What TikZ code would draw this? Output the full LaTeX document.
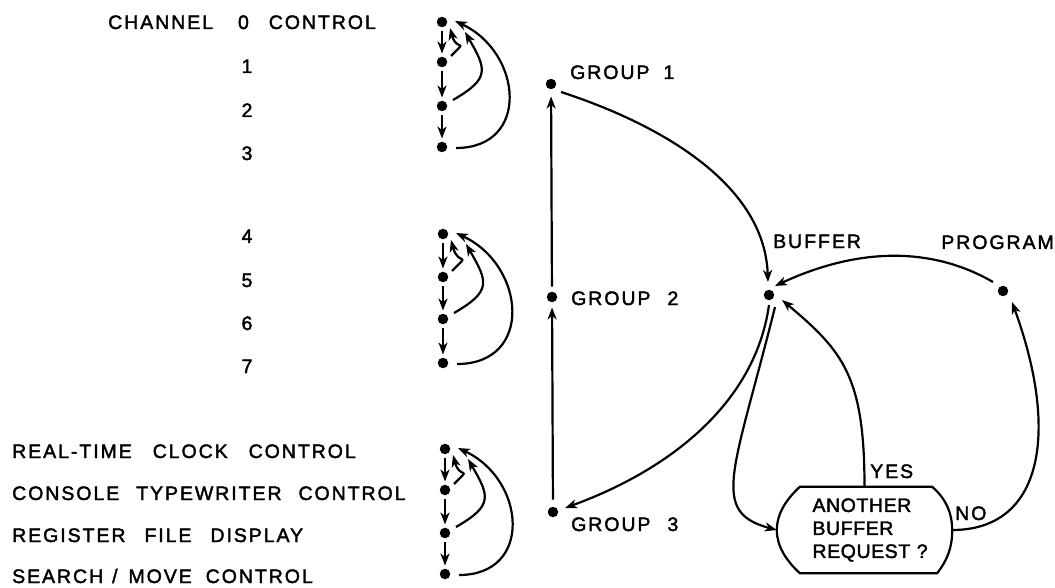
\documentclass[tikz,border=0pt]{standalone}
\usepackage{fontspec}
\setmainfont{Liberation Sans}
\newfontfamily\lettering{Liberation Sans}[LetterSpace=10,WordSpace=2.3,FakeBold=2]
\newfontfamily\boxlettering{Liberation Sans}[LetterSpace=3,WordSpace=1.5,FakeBold=2]
\usetikzlibrary{arrows.meta}

\begin{document}
\begin{tikzpicture}[x=1pt,y=1pt,
  dot/.style={circle,fill=black,inner sep=0pt,minimum size=10.5pt},
  flow/.style={-{Stealth[length=12pt,width=9pt,inset=3.5pt]},line width=2.2pt},
  lbl/.style={inner sep=0pt,font=\lettering\fontsize{19.5}{23}\selectfont},
  boxtext/.style={inner sep=0pt,font=\boxlettering\fontsize{19.5}{23}\selectfont,align=left}]
\useasboundingbox (0,0) rectangle (1055,-588);

% ---- channel labels ----
\node[lbl,anchor=base west] (hdr) at (108,-29) {CHANNEL\hspace{8pt} 0\hspace{3pt} CONTROL};
\foreach \n/\y in {1/73,2/117,3/160,4/243,5/287,6/330,7/373}
  \node[lbl,anchor=base] (ch\n) at (247,-\y) {\n};
\node[lbl,anchor=base west] (rtc) at (12,-458) {REAL-TIME\hspace{4pt} CLOCK\hspace{4pt} CONTROL};
\node[lbl,anchor=base west] (ctw) at (12,-500) {CONSOLE TYPEWRITER CONTROL};
\node[lbl,anchor=base west] (rfd) at (12,-542) {REGISTER\hspace{2pt} FILE\hspace{2pt} DISPLAY};
\node[lbl,anchor=base west] (smc) at (12,-583) {SEARCH\hspace{-8pt} / \hspace{-6pt}MOVE\hspace{-3pt} CONTROL};

% ---- priority chains, four channels per group ----
\foreach \p/\x/\ya/\yb/\yc/\yd in {a/442/22/62/106/147, b/443/234/277/319/363, c/445/449/490/533/574} {
  \node[dot] (\p0) at (\x,-\ya) {};
  \node[dot] (\p1) at (\x,-\yb) {};
  \node[dot] (\p2) at (\x,-\yc) {};
  \node[dot] (\p3) at (\x,-\yd) {};
  \draw[flow,shorten <=4pt,shorten >=3pt] (\p0) -- (\p1);
  \draw[flow,shorten <=4pt,shorten >=3pt] (\p1) -- (\p2);
  \draw[flow,shorten <=4pt,shorten >=3pt] (\p2) -- (\p3);
  \draw[flow] ([shift={(9,6)}]\p1.center) to[out=45,in=-75,looseness=2.3] ([shift={(8,-6)}]\p0.center);
  \draw[flow] ([shift={(11,6)}]\p2.center) to[out=30,in=-60,looseness=1.6] ([shift={(23,-10)}]\p0.center);
  \draw[flow] ([shift={(14,-1)}]\p3.center) to[out=0,in=-25,looseness=1.5] ([shift={(13,1)}]\p0.center);
}

% ---- groups ----
\node[dot] (G1) at (551,-84) {};
\node[dot] (G2) at (552,-297) {};
\node[dot] (G3) at (553,-512) {};
\node[lbl,anchor=base west] (g1l) at (570,-79) {GROUP\hspace{-3pt} 1};
\node[lbl,anchor=base west] (g2l) at (571,-305) {GROUP 2};
\node[lbl,anchor=base west] (g3l) at (571,-531) {GROUP 3};
\draw[flow,shorten <=5pt,shorten >=7pt] (G2) -- (G1);
\draw[flow,shorten <=7pt,shorten >=5pt] (G3) -- (G2);

% ---- buffer / program ----
\node[dot] (B) at (769,-295) {};
\node[dot] (P) at (1003,-291) {};
\node[lbl,anchor=base west] (bl) at (773,-248) {BUFFER};
\node[lbl,anchor=base east] (pl) at (1054,-249) {PROGRAM};

% decision box: flat top and bottom, bowed sides
\node[boxtext,minimum width=175pt,minimum height=86pt,text width=104pt] (req) at (864.5,-530)
  {ANOTHER\\BUFFER\\REQUEST~?};
\draw[line width=2.2pt]
  ([xshift=23]req.north west) -- ([xshift=-20]req.north east)
  .. controls +(15,-13) and +(0,15) .. (req.east)
  .. controls +(0,-18) and +(10,13) .. ([xshift=-15]req.south east)
  -- ([xshift=23]req.south west)
  .. controls +(-14,13) and +(0,-16) .. (req.west)
  .. controls +(0,16) and +(-14,-13) .. ([xshift=23]req.north west) -- cycle;

\draw[flow] ([shift={(10,-8)}]G1.center) .. controls +(-18:100) and +(92:100) .. ([shift={(-1,13)}]B.center);
\draw[flow] ([shift={(-10,9)}]P.center) .. controls +(150:80) and +(25:80) .. ([shift={(6,9)}]B.center);
\draw[flow] ([shift={(0,-10)}]B.center) .. controls +(-98:100) and +(20:110) .. ([shift={(12,4)}]G3.center);
\draw[flow] ([shift={(6,-12)}]B.center) .. controls +(-104:170) and +(165:70) .. (req.west);
\draw[flow] (req.north) .. controls +(90:110) and +(-40:80) .. ([shift={(13,-5)}]B.center);
\draw[flow] (req.east) .. controls +(0:90) and +(-70:140) .. ([shift={(9,-11)}]P.center);

\node[lbl,anchor=base west] (yes) at (870,-478) {YES};
\node[lbl,anchor=base west] (no) at (955,-520) {NO};
\end{tikzpicture}
\end{document}
